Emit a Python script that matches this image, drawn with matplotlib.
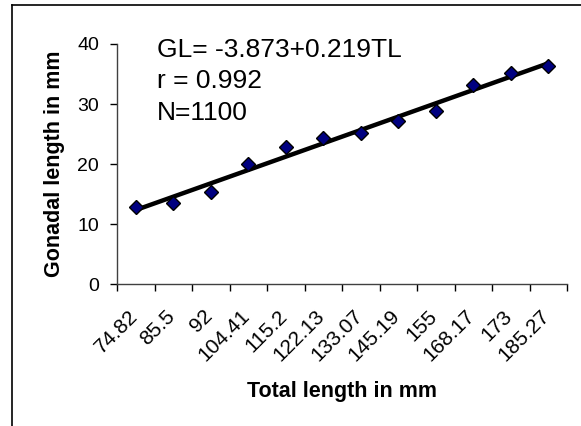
import numpy as np
import matplotlib
matplotlib.use("Agg")
import matplotlib.pyplot as plt
from matplotlib.lines import Line2D
from matplotlib.transforms import ScaledTranslation

plt.rcParams['font.family'] = ['Liberation Sans', 'DejaVu Sans']

# total length classes (category labels) and mean gonadal length
tl_labels = ["74.82", "85.5", "92", "104.41", "115.2", "122.13",
             "133.07", "145.19", "155", "168.17", "173", "185.27"]
gl_values = [12.9, 13.6, 15.3, 20.0, 22.9, 24.3, 25.2, 27.1, 28.9, 33.2, 35.2, 36.3]
y_ticks = [0, 10, 20, 30, 40]
notes = ["GL= -3.873+0.219TL", "r = 0.992", "N=1100"]

fig = plt.figure(figsize=(5.81, 4.26), dpi=100)
ax = fig.add_axes([117/581, 1-284.3/426, 450/581, 240.3/426])

idx = np.arange(len(tl_labels))
# linear trend line
k, b = np.polyfit(idx, gl_values, 1)
ax.plot(idx, k*idx + b, color="black", lw=3.2, zorder=2, solid_capstyle="butt")
ax.plot(idx, gl_values, ls="none", marker="D", ms=7.5, mfc="#000080", mec="black",
        mew=1, zorder=3)

ax.set_xlim(-0.5, len(tl_labels) - 0.5)
ax.set_ylim(0, 40)
ax.set_yticks(y_ticks)
ax.set_xticks(idx)
ax.set_xticklabels(tl_labels, rotation=45, ha="right", va="top", rotation_mode="anchor",
                   fontsize=15)
ax.set_xticks(np.arange(len(tl_labels) + 1) - 0.5, minor=True)
ax.tick_params(axis="x", which="major", length=0, pad=16)
ax.tick_params(axis="x", which="minor", length=5, direction="out", width=1)
ax.tick_params(axis="y", length=5, direction="out", width=1, pad=8, labelsize=14)
off = ScaledTranslation(-8/100, 0, fig.dpi_scale_trans)
for lab in ax.get_xticklabels():
    lab.set_transform(lab.get_transform() + off)

for s in ["top", "right"]:
    ax.spines[s].set_visible(False)
for s in ["left", "bottom"]:
    ax.spines[s].set_color("#404040")
    ax.spines[s].set_linewidth(1)

ax.set_xlabel("Total length in mm", fontsize=15.5, fontweight="bold")
ax.xaxis.label.set_va("baseline")
ax.xaxis.set_label_coords(0.5, -(397-284.3)/240.3)
ax.set_ylabel("Gonadal length in mm", fontsize=15.5, fontweight="bold")
ax.yaxis.set_label_coords((65-117)/450, 0.5)

for t, yb in zip(notes, [56.7, 87.5, 120]):
    fig.text(157/581, 1 - yb/426, t, fontsize=19, va="baseline", ha="left")

# outer frame (partly cropped)
fig.add_artist(Line2D([12/581, 12/581], [0, 1-5/426], color="black", lw=1.2,
                      transform=fig.transFigure))
fig.add_artist(Line2D([12/581, 1], [1-5/426, 1-5/426], color="black", lw=1.2,
                      transform=fig.transFigure))

fig.savefig("out.png", dpi=100, facecolor="white")
